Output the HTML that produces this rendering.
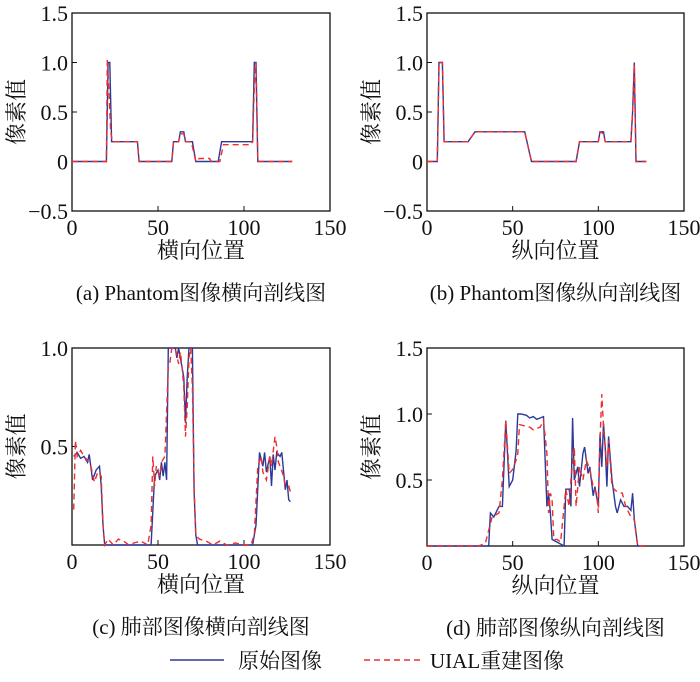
<!DOCTYPE html>
<html><head><meta charset="utf-8"><style>
body{margin:0;background:#fff;width:700px;height:677px;overflow:hidden}
svg text{font-family:"Liberation Serif","Noto Serif CJK SC","Noto Sans CJK SC",serif;fill:#111}
</style></head><body>
<svg id="s" width="700" height="677" xmlns="http://www.w3.org/2000/svg"></svg>
<script>
const xTicks=[0,50,100,150];
const aBx=[0,20,21,22,23,38,39,58,59,62,63,65,66,70,72,85,87,105,106,107,108,128];
const aBy=[0,0,1.0,1.0,0.2,0.2,0,0,0.2,0.2,0.3,0.3,0.2,0.2,0,0,0.2,0.2,1.0,1.0,0,0];
const aRx=[0,20,20.5,21.5,22.5,23.5,38,39,58,59,62,63,65,66,69,70,72,74,80,81,86,88,104,105,106,107,108,128];
const aRy=[0,0,1.03,0.7,0.3,0.2,0.2,0,0,0.2,0.2,0.28,0.28,0.2,0.2,0.15,0,0.03,0.03,0,0,0.17,0.17,0.2,0.75,1.0,0,0];
const bBx=[0,6,7,9,10,24,28,57,61,87,89,100,101,103,104,119,120,121,122,128];
const bBy=[0,0,1.0,1.0,0.2,0.2,0.3,0.3,0,0,0.2,0.2,0.3,0.3,0.2,0.2,0.5,1.0,0,0];
const bRx=[0,6,7,9,10,24,28,57,61,87,89,100,101,103,104,119,120,121,122,128];
const bRy=[0,0,1.0,1.0,0.2,0.2,0.3,0.3,0,0,0.2,0.2,0.3,0.28,0.2,0.2,0.5,0.98,0,0];
const cBx=[1,3,5,7,9,10,12,14,16,17,18,19,46,48,50,51,52,53,54,55,56,58,60,61,62,64,65,66,67,68,70,71,72,73,105,107,109,111,112,113,115,116,117,118,119,121,122,124,125,126,127];
const cBy=[0.45,0.47,0.44,0.45,0.42,0.46,0.33,0.38,0.4,0.3,0.1,0,0,0.35,0.38,0.33,0.42,0.35,0.42,0.33,1.0,1.0,1.0,0.95,1.0,0.9,0.85,0.62,0.85,1.0,1.0,0.27,0.05,0,0,0.1,0.47,0.4,0.47,0.37,0.45,0.3,0.46,0.38,0.47,0.45,0.47,0.28,0.33,0.23,0.22];
const cRx=[1,2,3,5,7,9,11,13,15,17,18,19,21,24,27,30,33,36,40,44,46,47,48,49,51,52,54,56,57,58,60,62,63,64,65,66,67,68,69,70,71,72,74,78,82,86,90,95,100,104,106,108,110,111,113,115,116,118,119,120,121,123,124,126,127];
const cRy=[0.18,0.53,0.45,0.48,0.45,0.43,0.4,0.32,0.37,0.35,0.1,0,0.03,0,0.03,0.02,0,0.01,0.02,0,0.1,0.45,0.3,0.4,0.35,0.42,0.45,0.9,0.93,1.0,1.0,0.92,0.98,0.9,0.8,0.55,0.7,0.95,1.0,0.8,0.3,0.05,0.03,0.02,0,0.02,0,0.01,0,0,0.05,0.4,0.45,0.37,0.33,0.45,0.4,0.55,0.5,0.42,0.4,0.35,0.3,0.3,0.27];
const dBx=[0,33,36,37,39,42,44,46,48,50,52,53,55,58,60,62,64,66,68,70,71,72,73,80,81,83,84,85,86,88,89,91,92,94,95,97,98,100,101,102,103,104,105,106,108,110,111,113,115,117,119,120,121,123,127];
const dBy=[0,0,0,0.25,0.22,0.3,0.3,0.95,0.45,0.5,0.72,1.0,1.0,0.99,0.97,0.98,0.96,0.97,0.98,0.3,0.4,0.25,0.05,0,0.43,0.43,0.3,0.97,0.5,0.6,0.45,0.7,0.75,0.55,0.6,0.38,0.45,0.3,0.85,0.6,0.93,0.75,0.45,0.83,0.5,0.3,0.25,0.35,0.3,0.3,0.27,0.4,0.2,0,0];
const dRx=[0,30,34,38,42,44,46,48,50,52,53,54,60,62,66,68,70,71,72,73,74,76,78,81,83,84,86,87,89,91,93,95,97,99,100,101,102,103,105,106,108,110,114,116,119,121,123,127];
const dRy=[0,0,0.02,0.22,0.25,0.5,0.95,0.55,0.58,0.65,0.7,0.92,0.9,0.88,0.9,0.95,0.7,0.25,0.4,0.35,0.05,0.05,0.03,0.43,0.3,0.5,0.75,0.3,0.6,0.5,0.65,0.58,0.45,0.4,0.25,0.8,1.15,0.9,0.6,0.8,0.45,0.42,0.4,0.3,0.22,0.2,0,0];
const aYT=[-0.5,0,0.5,1.0,1.5],aYL=['−0.5','0','0.5','1.0','1.5'];
const cYT=[0.5,1.0],cYL=['0.5','1.0'];
const dYT=[0.5,1.0,1.5],dYL=['0.5','1.0','1.5'];
const NS='http://www.w3.org/2000/svg',S=document.getElementById('s');
function el(t,a,p){const e=document.createElementNS(NS,t);for(const k in a)e.setAttribute(k,a[k]);(p||S).appendChild(e);return e;}
function tx(x,y,s,anchor,size,extra){const e=el('text',Object.assign({x:x,y:y,'text-anchor':anchor,'font-size':size},extra||{}));e.textContent=s;return e;}
function panel(id,L,R,T,B,y0,y1,yt,yl,bx,by,rx,ry,xl,cap){
  const g=el('g',{});
  
  
  const X=v=>L+(v/150)*(R-L), Y=v=>B-(v-y0)/(y1-y0)*(B-T);
  const fr=el('rect',{x:L,y:T,width:R-L,height:B-T,fill:'none',stroke:'#111','stroke-width':1.3},g);
  
  
  xTicks.forEach(v=>{el('line',{x1:X(v),x2:X(v),y1:B,y2:B-5,stroke:'#111'},g);
    const t=tx(X(v),B+24,String(v),'middle',22);
    
    });
  yt.forEach((v,i)=>{el('line',{x1:L,x2:L+5,y1:Y(v),y2:Y(v),stroke:'#111'},g);
    const t=tx(L-4,Y(v)+8,yl[i],'end',22);
    
    });
  const pts=(xs,ys)=>xs.map((v,i)=>X(v).toFixed(1)+','+Y(ys[i]).toFixed(1)).join(' ');
  const lb=el('polyline',{points:pts(bx,by),fill:'none',stroke:'#2b3a97','stroke-width':1.4},g);
  
  
  const lr=el('polyline',{points:pts(rx,ry),fill:'none',stroke:'#ee2d2d','stroke-width':1.4,'stroke-dasharray':'6,4'},g);
  
  
  const xt=tx((L+R)/2,B+47,xl,'middle',22);
  
  
  const yx=L-48,yy=(T+B)/2;
  const ytl=tx(yx,yy,'像素值','middle',22,{transform:'rotate(-90 '+yx+' '+yy+')'});
  
  
  const c=tx((L+R)/2,B+89,cap,'middle',21);
  
  
}
panel('a',72,330,13,211,-0.5,1.5,aYT,aYL,aBx,aBy,aRx,aRy,'横向位置','(a) Phantom图像横向剖线图');
panel('b',427,684,13,211,-0.5,1.5,aYT,aYL,bBx,bBy,bRx,bRy,'纵向位置','(b) Phantom图像纵向剖线图');
panel('c',72,330,348,545,0,1.0,cYT,cYL,cBx,cBy,cRx,cRy,'横向位置','(c) 肺部图像横向剖线图');
panel('d',427,684,348,546,0,1.5,dYT,dYL,dBx,dBy,dRx,dRy,'纵向位置','(d) 肺部图像纵向剖线图');
const lg=el('g',{});


el('line',{x1:170,x2:224,y1:660,y2:660,stroke:'#2b3a97','stroke-width':1.4},lg);
const l1=tx(238,668,'原始图像','start',21);


el('line',{x1:364,x2:420,y1:660,y2:660,stroke:'#ee2d2d','stroke-width':1.4,'stroke-dasharray':'6,4'},lg);
const l2=tx(430,668,'UIAL重建图像','start',21);


</script>
</body></html>
